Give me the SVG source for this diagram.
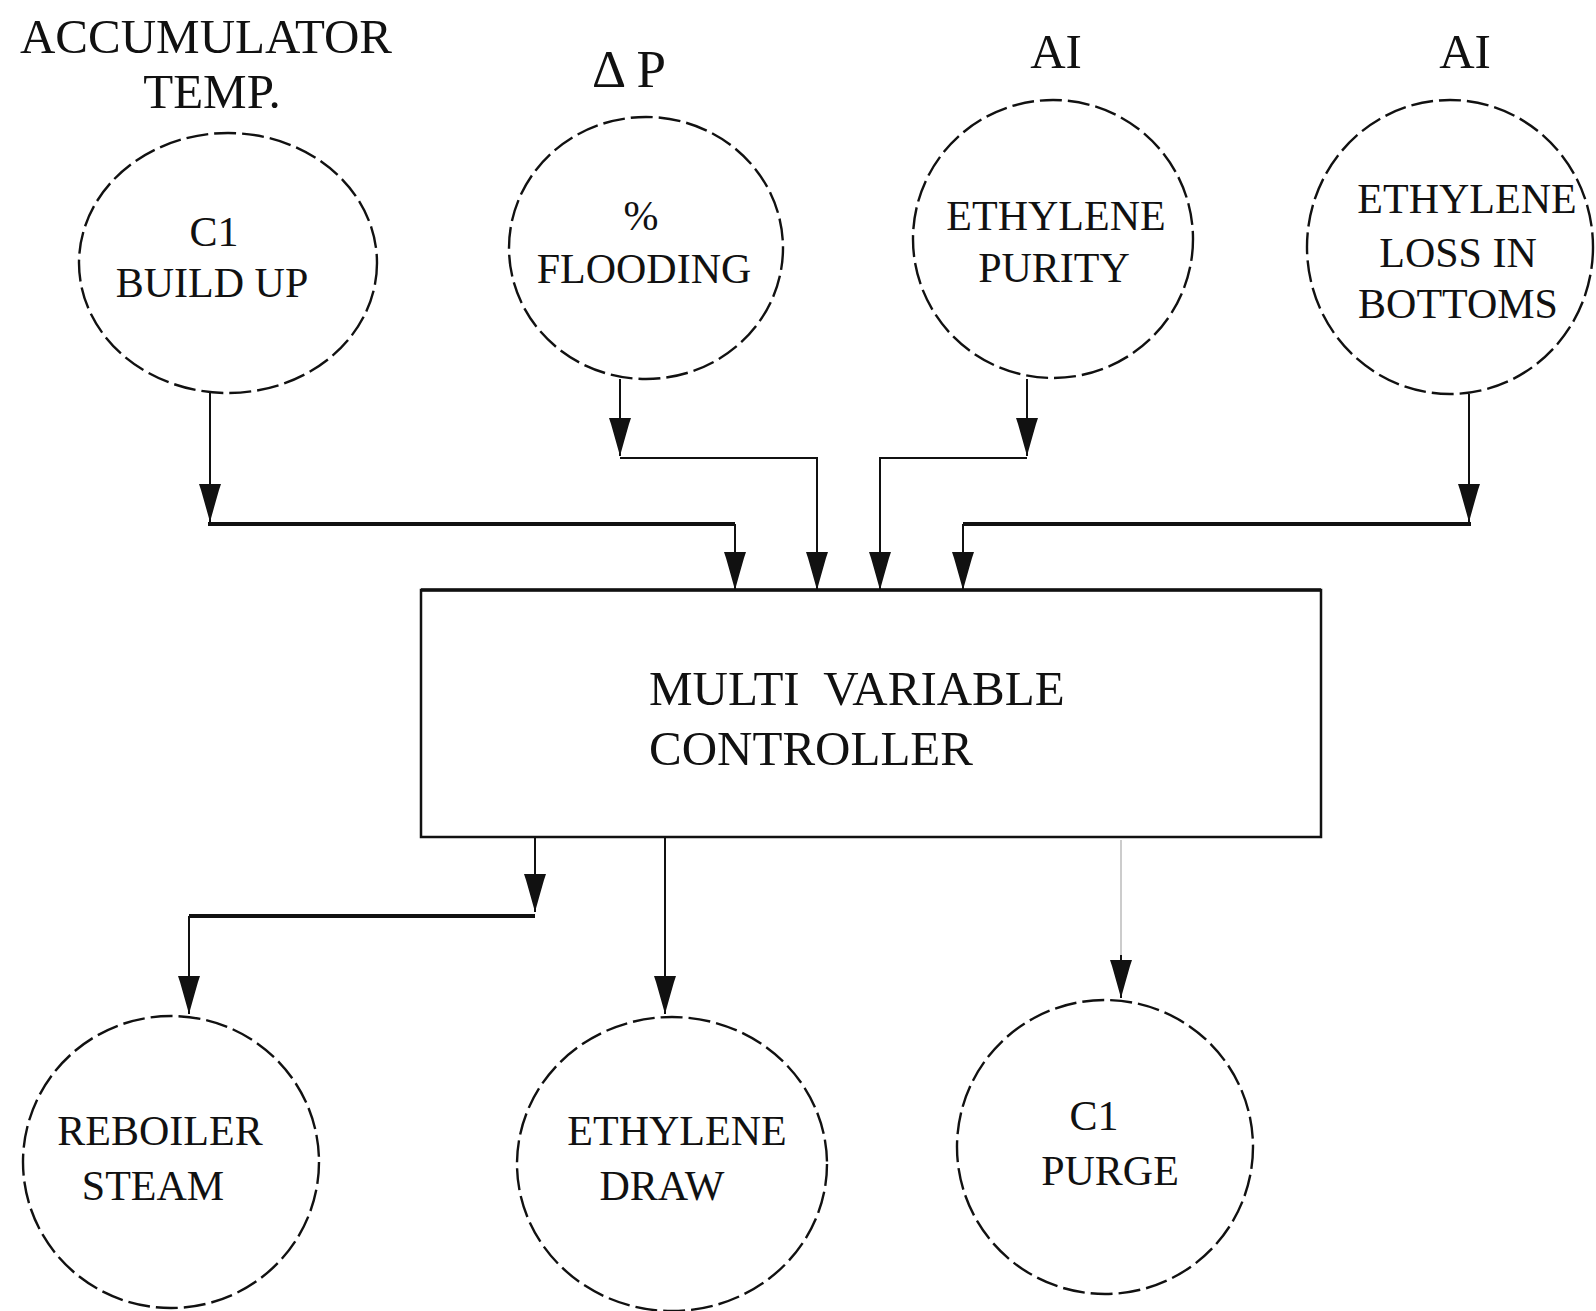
<svg xmlns="http://www.w3.org/2000/svg" width="1596" height="1311" viewBox="0 0 1596 1311">
<style>
text{font-family:"Liberation Serif","Times New Roman",serif;fill:#111;text-anchor:middle}
.lbl{font-size:49px}
.in{font-size:42px}
.circ{fill:none;stroke:#111;stroke-width:2.4;stroke-dasharray:22 6}
.ln{fill:none;stroke:#111;stroke-width:2}
.thick{fill:none;stroke:#111;stroke-width:4}
.faint{fill:none;stroke:#aaa;stroke-width:1.2}
</style>
<defs>
<marker id="ah" markerUnits="userSpaceOnUse" viewBox="0 -12 40 24" refX="38" refY="0" markerWidth="40" markerHeight="24" orient="auto">
<path d="M0,-11 L6,-9 Q20,-5 38,0 Q20,5 6,9 L0,11 z" fill="#111"/>
</marker>
</defs>
<rect width="1596" height="1311" fill="#fff"/>

<g id="n-c1buildup">
<text class="lbl" x="206" y="53">ACCUMULATOR</text>
<text class="lbl" x="212" y="108">TEMP.</text>
<ellipse class="circ" cx="228" cy="263" rx="149" ry="130"/>
<text class="in" x="214" y="246">C1</text>
<text class="in" x="212" y="297">BUILD UP</text>
</g>

<g id="n-flooding">
<text class="lbl" x="629" y="87" style="font-size:53px" xml:space="preserve">Δ P</text>
<ellipse class="circ" cx="646" cy="248" rx="137" ry="131"/>
<text class="in" x="641" y="230">%</text>
<text class="in" x="644" y="283">FLOODING</text>
</g>

<g id="n-purity">
<text class="lbl" x="1056" y="68">AI</text>
<ellipse class="circ" cx="1053" cy="239" rx="140" ry="139"/>
<text class="in" x="1056" y="230">ETHYLENE</text>
<text class="in" x="1054" y="282">PURITY</text>
</g>

<g id="n-loss">
<text class="lbl" x="1465" y="68">AI</text>
<ellipse class="circ" cx="1450" cy="247" rx="143" ry="147"/>
<text class="in" x="1467" y="213">ETHYLENE</text>
<text class="in" x="1458" y="267">LOSS IN</text>
<text class="in" x="1458" y="318">BOTTOMS</text>
</g>

<g id="n-controller">
<rect x="421" y="590" width="900" height="247" fill="#fff" stroke="#111" stroke-width="2.5"/>
<path d="M421,590 H1321" stroke="#111" stroke-width="3.5" fill="none"/>
<text class="lbl" x="649" y="705" style="text-anchor:start" xml:space="preserve">MULTI  VARIABLE</text>
<text class="lbl" x="649" y="765" style="text-anchor:start">CONTROLLER</text>
</g>

<g id="n-reboiler">
<ellipse class="circ" cx="171" cy="1162" rx="148" ry="146"/>
<text class="in" x="160" y="1145">REBOILER</text>
<text class="in" x="153" y="1200">STEAM</text>
</g>

<g id="n-draw">
<ellipse class="circ" cx="672" cy="1164" rx="155" ry="147"/>
<text class="in" x="677" y="1145">ETHYLENE</text>
<text class="in" x="662" y="1200">DRAW</text>
</g>

<g id="n-purge">
<ellipse class="circ" cx="1105" cy="1147" rx="148" ry="147"/>
<text class="in" x="1094" y="1130">C1</text>
<text class="in" x="1110" y="1185">PURGE</text>
</g>

<g id="connectors">
<path class="ln" d="M210,393 V522" marker-end="url(#ah)"/>
<path class="thick" d="M208,524 H735"/>
<path class="ln" d="M735,524 V590" marker-end="url(#ah)"/>

<path class="ln" d="M620,379 V456" marker-end="url(#ah)"/>
<path class="ln" d="M620,458 H817 V590" marker-end="url(#ah)"/>

<path class="ln" d="M1027,379 V456" marker-end="url(#ah)"/>
<path class="ln" d="M1027,458 H880 V590" marker-end="url(#ah)"/>

<path class="ln" d="M1469,394 V522" marker-end="url(#ah)"/>
<path class="thick" d="M1471,524 H963"/>
<path class="ln" d="M963,524 V590" marker-end="url(#ah)"/>

<path class="ln" d="M535,837 V912" marker-end="url(#ah)"/>
<path class="thick" d="M535,916 H189"/>
<path class="ln" d="M189,916 V1014" marker-end="url(#ah)"/>

<path class="ln" d="M665,837 V1014" marker-end="url(#ah)"/>

<path class="faint" d="M1121,840 V962"/>
<path class="ln" d="M1121,955 V998" marker-end="url(#ah)"/>
</g>
</svg>
